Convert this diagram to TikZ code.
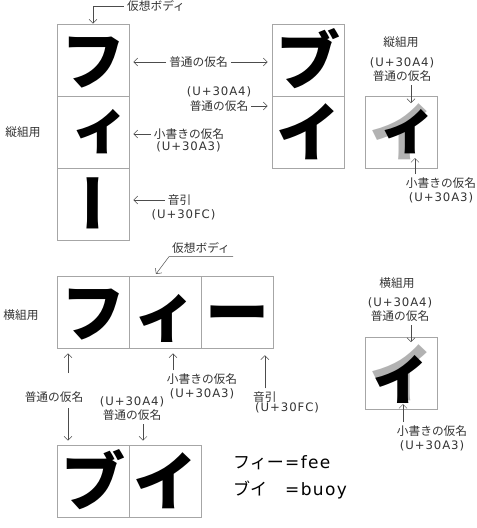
\documentclass[tikz,border=0pt]{standalone}
\usepackage{fontspec}
\usepackage{tikz}
\setmainfont{Noto Sans CJK JP}
\newfontfamily\kanafont{Noto Sans CJK JP}
\newfontfamily\tatefont{Noto Sans CJK JP}[RawFeature=+vert]
\newfontfamily\codefont{DejaVu Sans}[LetterSpace=8]
\newcommand{\bigkana}{\kanafont\bfseries\fontsize{64}{64}\selectfont}
\usetikzlibrary{arrows.meta,positioning}

\begin{document}
\begin{tikzpicture}[x=1pt,y=-1pt,
        kbox/.style={draw=black!35,line width=0.6pt,minimum size=72pt,inner sep=0pt,
                     text height=60.32pt,text depth=11.68pt,font=\bigkana},
        lbl/.style={text=black!80,inner sep=3pt,font=\fontsize{11.7}{14}\selectfont},
        arr/.style={draw=black!70,line width=0.5pt,-{Straight Barb[length=4pt,width=8pt]}},
        gap/.style={shorten >=#1}]
        	
        	\useasboundingbox (0,0) rectangle (477,528);
        	
        	% vertical setting
        	\node[kbox] (v1) at (93, 60) {フ};
        	\node[kbox] (v2) at (93, 132) {\tatefont ィ};
        	\node[kbox] (v3) at (93, 204) {\tatefont ー};
        	\node[kbox] (r1) at (308, 60) {ブ};
        	\node[kbox] (r2) at (308, 132) {イ};
        	\node[kbox] (vo) at (401, 132) {\rlap{\color{black!30}イ}\tatefont ィ};
        	
        	\node[lbl] (body1) at (156, 6) {仮想ボディ};
        	\node[lbl] (futsu1) at (198.5, 62) {普通の仮名};
        	\node[lbl] (futsu2) at (219, 106) {普通の仮名};
        	\node[lbl] (futsu2u) at (219, 92) {\codefont (U+30A4)};
        	\node[lbl] (tate1) at (23, 132) {縦組用};
        	\node[lbl] (kogaki1) at (189, 134) {小書きの仮名};
        	\node[lbl] (kogaki1u) at (188.5, 147) {\codefont (U+30A3)};
        	\node[lbl] (onbiki1) at (179.5, 200) {音引};
        	\node[lbl] (onbiki1u) at (183.5, 215) {\codefont (U+30FC)};
        	\node[lbl] (tate2) at (401, 42) {縦組用};
        	\node[lbl,align=center] (futsu3) at (402, 70) {{\codefont (U+30A4)}\\普通の仮名};
        	\node[lbl,align=center] (kogaki2) at (441, 190) {小書きの仮名\\{\codefont (U+30A3)}};
        	\coordinate (t3) at (411, 103);
        	\coordinate (t4) at (415, 158);
        	
        	\draw[arr] (body1.west) -| (v1.north);
        	\draw[arr,gap=4pt] (futsu1.west) -- (futsu1.west -| v1.east);
        	\draw[arr,gap=4pt] (futsu1.east) -- (futsu1.east -| r1.west);
        	\draw[arr,gap=4pt] (futsu2.east) -- (futsu2.east -| r2.west);
        	\draw[arr,gap=4pt] (kogaki1.west) -- (kogaki1.west -| v2.east);
        	\draw[arr,gap=4pt] (onbiki1.west) -- (onbiki1.west -| v3.east);
        	\draw[arr] (futsu3.south -| t3) -- (t3);
        	\draw[arr] (kogaki2.north -| t4) -- (t4);
        	
        	% horizontal setting
        	\node[kbox] (h1) at (93, 312) {フ};
        	\node[kbox] (h2) at (165, 312) {ィ};
        	\node[kbox] (h3) at (237, 312) {ー};
        	\node[kbox] (b1) at (93, 481) {ブ};
        	\node[kbox] (b2) at (165, 481) {イ};
        	\node[kbox] (ho) at (401, 373) {\rlap{\color{black!30}イ}ィ};
        	
        	\node[lbl] (body2) at (201, 248) {仮想ボディ};
        	\node[lbl] (yoko1) at (21, 315) {横組用};
        	\node[lbl] (futsu4) at (54, 397) {普通の仮名};
        	\node[lbl,align=center] (futsu5) at (132, 409) {{\codefont (U+30A4)}\\普通の仮名};
        	\node[lbl,align=center] (kogaki3) at (202, 386) {小書きの仮名\\{\codefont (U+30A3)}};
        	\node[lbl,anchor=west] (onbiki2) at (250, 397) {音引};
        	\node[lbl,anchor=west] (onbiki2u) at (252, 408) {\codefont (U+30FC)};
        	\node[lbl] (yoko2) at (397, 283) {横組用};
        	\node[lbl,align=center] (futsu6) at (400, 310) {{\codefont (U+30A4)}\\普通の仮名};
        	\node[lbl,align=center] (kogaki4) at (432, 438) {小書きの仮名\\{\codefont (U+30A3)}};
        	\coordinate (t5) at (156, 274);
        	\coordinate (a1) at (68, 373);
        	\coordinate (a2) at (68, 408);
        	\coordinate (t6) at (411, 342);
        	\coordinate (t7) at (403, 404);
        	
        	\draw[arr] (body2.south east) -- (body2.south west) -- (t5);
        	\draw[arr,gap=5pt] (a1) -- (a1 |- h1.south);
        	\draw[arr,gap=4pt] (a2) -- (a2 |- b1.north);
        	\draw[arr,gap=4pt] ([xshift=11pt]futsu5.south) -- ([xshift=11pt]futsu5.south |- b2.north);
        	\draw[arr,gap=5pt] ([xshift=-29pt]kogaki3.north) -- ([xshift=-29pt]kogaki3.north |- h2.south);
        	\draw[arr,gap=7pt] (onbiki2.north) -- (onbiki2.north |- h3.south);
        	\draw[arr] (futsu6.south -| t6) -- (t6);
        	\draw[arr] (kogaki4.north -| t7) -- (t7);
        	
        	\node[anchor=west,inner sep=0pt,font=\fontsize{17}{20}\selectfont] (fee) at (233, 463) {\makebox[52pt][l]{フィー}{\codefont =fee}};
        	\node[anchor=west,inner sep=0pt,font=\fontsize{17}{20}\selectfont] (buoy) at (233, 490) {\makebox[52pt][l]{ブイ}{\codefont =buoy}};
        	
\end{tikzpicture}
\end{document}
